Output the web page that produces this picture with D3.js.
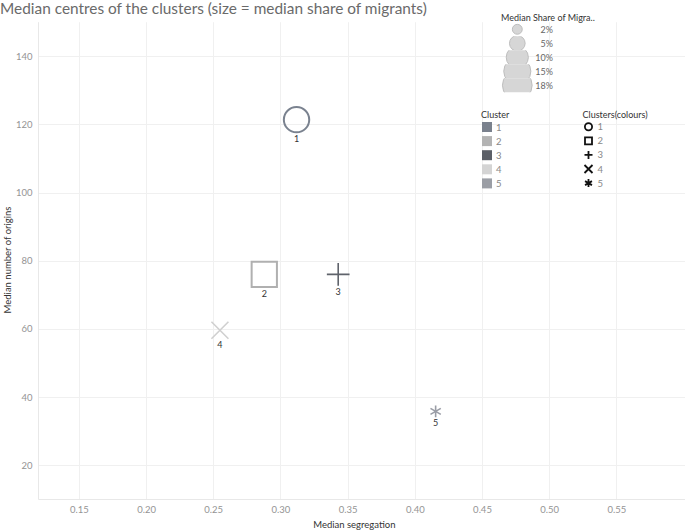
<!DOCTYPE html>
<html><head><meta charset="utf-8">
<script src="https://cdn.jsdelivr.net/npm/d3@7"></script>
<style>body{margin:0;background:#fff;} text{font-family:Lato, "Open Sans", sans-serif;}</style>
</head><body>
<svg id="c" width="685" height="532"></svg>
<script>
const clusters = ["1","2","3","4","5"];
const segregation = [0.312, 0.288, 0.343, 0.255, 0.4155];
const origins = [121.4, 76.0, 76.0, 59.6, 35.8];
const share = [15.3, 14.1, 10.5, 5.9, 2.9];
const shapes = ["circle","square","plus","cross","asterisk"];
const clusterColors = ["#7a818d","#b3b3b3","#5b5f67","#d4d4d4","#9b9ea5"];
const markColors = ["#7a828f","#b0b0b0","#5f636b","#d0d0d0","#9a9da6"];
const xTicks = [0.15,0.20,0.25,0.30,0.35,0.40,0.45,0.50,0.55];
const yTicks = [20,40,60,80,100,120,140];
const legendShares = [2,5,10,15,18];

const svg = d3.select("#c");
const x = d3.scaleLinear().domain([0.12,0.60]).range([38.5,683.6]);
const y = d3.scaleLinear().domain([10,150]).range([499.3,22.2]);
const size = d3.scaleSqrt().domain([0,100]).range([0,70]);

// grid
const grid = svg.append("g");
grid.selectAll("line.v").data(xTicks).join("line")
  .attr("x1",d=>Math.round(x(d))+0.5).attr("x2",d=>Math.round(x(d))+0.5)
  .attr("y1",y(150)).attr("y2",y(10)).attr("stroke","#f0f0f0").attr("stroke-width",1);
grid.selectAll("line.h").data(yTicks).join("line")
  .attr("y1",d=>Math.round(y(d))+0.5).attr("y2",d=>Math.round(y(d))+0.5)
  .attr("x1",x(0.12)).attr("x2",685).attr("stroke","#f0f0f0").attr("stroke-width",1);
grid.append("line").attr("x1",38.5).attr("x2",38.5).attr("y1",y(150)).attr("y2",499.5).attr("stroke","#e8e8e8");
grid.append("line").attr("x1",38.5).attr("x2",685).attr("y1",499.5).attr("y2",499.5).attr("stroke","#e8e8e8");

// axes
const xAxis = svg.append("g").attr("transform","translate(0,499.5)")
  .call(d3.axisBottom(x).tickValues(xTicks).tickFormat(d3.format(".2f")).tickSize(0).tickPadding(7));
const yAxis = svg.append("g").attr("transform","translate(38.5,0)")
  .call(d3.axisLeft(y).tickValues(yTicks).tickSize(0).tickPadding(6));
[xAxis,yAxis].forEach(a=>{a.select(".domain").remove();
  a.selectAll("text").attr("fill","#949494").style("font-size","9.5px").style("font-family","Lato, sans-serif");});

svg.append("text").attr("x",x(0.355)).attr("y",528).attr("text-anchor","middle")
  .attr("fill","#333").style("font-size","9.5px").text("Median segregation");
svg.append("text").attr("transform","translate(11,260) rotate(-90)").attr("text-anchor","middle")
  .attr("fill","#333").style("font-size","9.5px").text("Median number of origins");

svg.append("text").attr("x",0).attr("y",14).attr("fill","#6a6a6a").style("font-size","15.4px")
  .text("Median centres of the clusters (size = median share of migrants)");

// shape path generator (centered at 0,0, overall width w)
function shapePath(s,w){
  const h=w/2;
  if(s==="square") return `M${-h},${-h}H${h}V${h}H${-h}Z`;
  if(s==="plus") return `M${-h},0H${h}M0,${-h}V${h}`;
  if(s==="cross") return `M${-h},${-h}L${h},${h}M${h},${-h}L${-h},${h}`;
  if(s==="asterisk"){ let p=`M0,${-h}V${h}`; const a=Math.PI/6;
    p+=`M${-h*Math.cos(a)},${-h*Math.sin(a)}L${h*Math.cos(a)},${h*Math.sin(a)}`;
    p+=`M${h*Math.cos(a)},${-h*Math.sin(a)}L${-h*Math.cos(a)},${h*Math.sin(a)}`; return p;}
  return "";
}
const data = clusters.map((c,i)=>({c,x:segregation[i],y:origins[i],s:share[i],shape:shapes[i],col:markColors[i]}));
const marks = svg.append("g").selectAll("g").data(data).join("g")
  .attr("transform",d=>`translate(${x(d.x)},${y(d.y)})`);
marks.each(function(d){
  const g=d3.select(this); const w=size(d.s);
  const sw = d.shape==="circle"||d.shape==="square" ? 2 : 1.6;
  if(d.shape==="circle") g.append("circle").attr("r",w/2-1).attr("fill","none").attr("stroke",d.col).attr("stroke-width",sw);
  else g.append("path").attr("d",shapePath(d.shape,w-(d.shape==="square"?1:0))).attr("fill","none").attr("stroke",d.col).attr("stroke-width",sw);
  g.append("text").attr("y",w/2+9).attr("text-anchor","middle").attr("fill","#333").style("font-size","9px").text(d.c);
});

// size legend
const sl = svg.append("g");
sl.append("text").attr("x",501).attr("y",21).attr("fill","#333").style("font-size","9px").text("Median Share of Migra..");
const defs = svg.append("defs");
legendShares.forEach((v,i)=>{
  const cy = 29.3+i*14;
  defs.append("clipPath").attr("id","cl"+i).append("rect").attr("x",490).attr("y",cy-7).attr("width",60).attr("height",14);
  sl.append("circle").attr("cx",517.3).attr("cy",cy).attr("r",size(v)/2).attr("fill","#d6d6d6").attr("stroke","#bdbdbd").attr("stroke-width",1)
    .attr("clip-path",`url(#cl${i})`);
  sl.append("text").attr("x",553).attr("y",cy+3.2).attr("text-anchor","end").attr("fill","#666").style("font-size","9px").text(v+"%");
});

// cluster colour legend
const cl = svg.append("g");
cl.append("text").attr("x",481).attr("y",118).attr("fill","#333").style("font-size","9px").text("Cluster");
clusters.forEach((c,i)=>{
  const cy=127+i*14.1;
  cl.append("rect").attr("x",482).attr("y",cy-5).attr("width",10).attr("height",10).attr("fill",clusterColors[i]);
  cl.append("text").attr("x",496).attr("y",cy+3.5).attr("fill","#888").style("font-size","9.5px").text(c);
});

// shape legend
const sh = svg.append("g");
sh.append("text").attr("x",582.5).attr("y",118).attr("fill","#333").style("font-size","9px").text("Clusters(colours)");
clusters.forEach((c,i)=>{
  const cy=126.7+i*14.1; const g=sh.append("g").attr("transform",`translate(588.5,${cy})`);
  if(shapes[i]==="circle") g.append("circle").attr("r",3.6).attr("fill","none").attr("stroke","#111").attr("stroke-width",1.8);
  else g.append("path").attr("d",shapePath(shapes[i],shapes[i]==="square"?7:8)).attr("fill","none").attr("stroke","#111").attr("stroke-width",1.8);
  sh.append("text").attr("x",597.5).attr("y",cy+3.5).attr("fill","#888").style("font-size","9.5px").text(c);
});
</script>
</body></html>
